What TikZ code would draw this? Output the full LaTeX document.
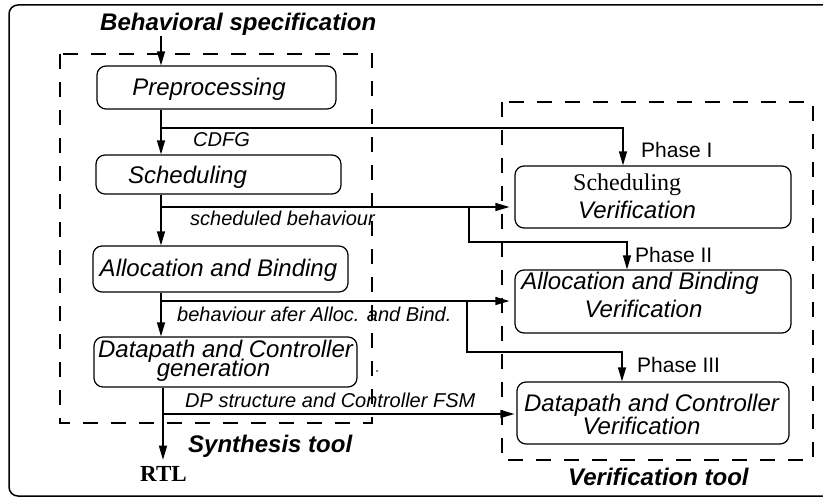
\documentclass[tikz,border=0pt]{standalone}
\usepackage{fontspec}
\setmainfont{Liberation Sans}
\newfontfamily\seriffont{Liberation Serif}
\usetikzlibrary{arrows.meta}

\tikzset{
  procbox/.style={draw, rounded corners=9pt, line width=1.2pt, inner sep=0pt},
  boxtxt/.style={inner sep=0pt, anchor=base, font=\itshape\fontsize{24}{24}\selectfont},
  flowlbl/.style={inner sep=0pt, anchor=base west, font=\itshape\fontsize{20}{20}\selectfont},
  phaselbl/.style={inner sep=0pt, anchor=base west, font=\fontsize{21}{21}\selectfont},
  titlelbl/.style={inner sep=0pt, anchor=base west, font=\bfseries\itshape\fontsize{24}{24}\selectfont},
  toolframe/.style={draw, line width=1.2pt, dash pattern=on 15pt off 13pt},
  arr/.style={line width=1.3pt, -{Triangle[length=14pt,width=8pt]}},
}

\begin{document}
\begin{tikzpicture}[x=1pt, y=-1pt]
\useasboundingbox (0,0) rectangle (823,497);
\clip (0,0) rectangle (823,497);

% outer frame (runs off the right and bottom edges)
\draw[line width=1.5pt, rounded corners=9pt] (9,5) rectangle (860,496);

% tool boundaries
\draw[toolframe] (60,54) rectangle (372,423);
\draw[toolframe] (502,102) rectangle (813,460);

% synthesis flow boxes
\node[procbox, minimum width=239pt, minimum height=43pt] (pre)   at (216.5,87.5) {};
\node[procbox, minimum width=245pt, minimum height=39pt] (sch)   at (218.5,174.5) {};
\node[procbox, minimum width=255pt, minimum height=46pt] (alloc) at (220.5,269) {};
\node[procbox, minimum width=263pt, minimum height=50pt] (dpc)   at (225.5,362) {};

\node[boxtxt] (pret)  at (209,96)    {Preprocessing};
\node[boxtxt] (scht)  at (187.5,184) {Scheduling};
\node[boxtxt] (allt)  at (218.5,277) {Allocation and Binding};
\node[boxtxt] (dpct1) at (225.5,358) {Datapath and Controller};
\node[boxtxt] (dpct2) at (213.5,377) {generation};

% verification boxes
\node[procbox, minimum width=276pt, minimum height=62pt] (v1) at (653,197) {};
\node[procbox, minimum width=276pt, minimum height=63pt] (v2) at (653,301.5) {};
\node[procbox, minimum width=272pt, minimum height=62pt] (v3) at (653,413) {};

\node[inner sep=0pt, anchor=base west, font=\seriffont\fontsize{24}{24}\selectfont] (v1t1) at (573,191) {Scheduling};
\node[boxtxt, anchor=base west] (v1t2) at (578,219) {Verification};
\node[boxtxt] (v2t1) at (640,290)   {Allocation and Binding};
\node[boxtxt] (v2t2) at (643.5,318) {Verification};
\node[boxtxt] (v3t1) at (651.5,412) {Datapath and Controller};
\node[boxtxt] (v3t2) at (641.5,435) {Verification};

% titles and labels
\node[titlelbl] (spec)  at (100,31)  {Behavioral specification};
\node[titlelbl] (synth) at (188,452) {Synthesis tool};
\node[titlelbl] (verif) at (568,485) {Verification tool};
\node[inner sep=0pt, anchor=base west, font=\seriffont\bfseries\fontsize{23}{23}\selectfont] (rtl) at (140,482) {RTL};

\node[flowlbl] (l1) at (193,147) {CDFG};
\node[flowlbl] (l2) at (190,226) {scheduled behaviour};
\node[flowlbl] (l3) at (177,322) {behaviour afer Alloc. and Bind.};
\node[flowlbl] (l4) at (185,408) {DP structure and Controller FSM};

\node[phaselbl] (p1) at (641,158) {Phase I};
\node[phaselbl] (p2) at (635,263) {Phase II};
\node[phaselbl] (p3) at (637,373) {Phase III};

% main synthesis spine
\coordinate (sp)  at (161,0);
\coordinate (sp2) at (163,0);
\draw[arr] (spec.south -| sp) -- (pre.north -| sp);
\draw[arr] (pre.south -| sp) -- (sch.north -| sp);
\draw[arr] (sch.south -| sp) -- (alloc.north -| sp);
\draw[arr] (alloc.south -| sp) -- (dpc.north -| sp);
\draw[arr, shorten >=7pt] (dpc.south -| sp2) -- (rtl.north -| sp2);

% CDFG to phase I
\coordinate (c1) at (161,128);
\coordinate (x1) at (623,0);
\draw[arr] (c1) -| (v1.north -| x1);

% scheduled behaviour
\coordinate (c2) at (161,207);
\draw[arr, shorten >=5pt] (c2) -- (v1.west |- c2);
\coordinate (j2) at (469,207);
\coordinate (k2) at (469,242);
\coordinate (x2) at (627,0);
\draw[arr] (j2) -- (k2) -| (v2.north -| x2);

% behaviour after allocation and binding
\coordinate (c3) at (161,301);
\draw[arr, shorten >=5pt] (c3) -- (v2.west |- c3);
\coordinate (j3) at (467,301);
\coordinate (k3) at (467,352);
\coordinate (x3) at (622,0);
\draw[arr] (j3) -- (k3) -| (v3.north -| x3);

% datapath structure and controller FSM
\coordinate (c4) at (163,414);
\draw[arr, shorten >=2pt] (c4) -- (v3.west |- c4);

% small dot beside the datapath box
\fill (377,371) circle (0.9);
\end{tikzpicture}
\end{document}
